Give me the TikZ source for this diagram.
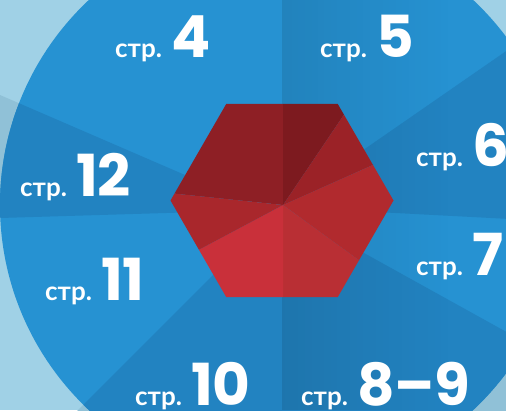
\documentclass[tikz,border=0pt]{standalone}
\usepackage{fontspec}
\setmainfont{Lato}
\newfontfamily\numfam{Poppins}
\usetikzlibrary{calc,fadings}
\definecolor{bgLight}{HTML}{A0D1E6}
\definecolor{bgDark}{HTML}{90C1D7}
\definecolor{blueLight}{HTML}{2692D2}
\definecolor{blueDark}{HTML}{2283C1}
\definecolor{redA}{HTML}{8E1F25}
\definecolor{redB}{HTML}{7D1A1F}
\definecolor{redC}{HTML}{9B2227}
\definecolor{redD}{HTML}{B12A2E}
\definecolor{redE}{HTML}{B92F34}
\definecolor{redF}{HTML}{C9303A}
\definecolor{redG}{HTML}{A9272C}
\tikzfading[name=shadowfade, left color=transparent!0, right color=transparent!100]
\newcommand{\pgword}{\fontsize{26}{26}\selectfont\bfseries}
\newcommand{\pgnum}{\numfam\fontsize{58}{58}\selectfont\bfseries}

\begin{document}
\begin{tikzpicture}[x=1pt, y=1pt]
    \tikzstyle{page label} = [anchor=base west, inner sep=0pt, text=white]
    \useasboundingbox (0,0) rectangle (506,410);
    \clip (0,0) rectangle (506,410);
    \coordinate (o) at (281,205);
    \coordinate (c) at (281,203);
    % light background and its darker bands
    \fill[bgLight] (0,0) rectangle (506,410);
    \fill[bgDark] (c) -- ($(c)+(-3:700pt)$) -- ($(c)+(16:700pt)$) -- ($(c)+(34.7:700pt)$) -- cycle;
    \fill[bgDark] (c) -- ($(c)+(225:700pt)$) -- ($(c)+(262:700pt)$) -- ($(c)+(296:700pt)$) -- ($(c)+(331:700pt)$) -- cycle;
    \fill[bgDark] (266,200) -- (-10,191.7) -- (-10,319.3) -- cycle;
    % the disc
    \fill[blueLight] (o) circle (281pt);
    \begin{scope}
        \clip (o) circle (281pt);
        \fill[blueDark] (c) -- ($(c)+(-3:700pt)$) -- ($(c)+(16:700pt)$) -- ($(c)+(34.7:700pt)$) -- cycle;
        \fill[blueDark] (c) -- ($(c)+(225:700pt)$) -- ($(c)+(262:700pt)$) -- ($(c)+(296:700pt)$) -- ($(c)+(331:700pt)$) -- cycle;
        \fill[blueDark] (266,200) -- (-10,191.7) -- (-10,319.3) -- cycle;
    \end{scope}
    % shadow on the right half
    \fill[black, opacity=0.1, path fading=shadowfade] (282,0) rectangle (450,410);
    % red hexagon
    \begin{scope}[shift={(282,209.5)}]
        \clip (0:111.5pt) -- (60:111.5pt) -- (120:111.5pt) -- (180:111.5pt) -- (240:111.5pt) -- (300:111.5pt) -- cycle;
        \coordinate (h) at (1,-4.5);
        \fill[redA] (h) -- ($(h)+(90:200pt)$) -- ($(h)+(132:200pt)$) -- ($(h)+(174:200pt)$) -- cycle;
        \fill[redB] (h) -- ($(h)+(56:200pt)$) -- ($(h)+(90:200pt)$) -- cycle;
        \fill[redC] (h) -- ($(h)+(24:200pt)$) -- ($(h)+(56:200pt)$) -- cycle;
        \fill[redD] (h) -- ($(h)+(-36:200pt)$) -- ($(h)+(-6:200pt)$) -- ($(h)+(24:200pt)$) -- cycle;
        \fill[redE] (h) -- ($(h)+(-90:200pt)$) -- ($(h)+(-36:200pt)$) -- cycle;
        \fill[redF] (h) -- ($(h)+(208:200pt)$) -- ($(h)+(239:200pt)$) -- ($(h)+(270:200pt)$) -- cycle;
        \fill[redG] (h) -- ($(h)+(174:200pt)$) -- ($(h)+(208:200pt)$) -- cycle;
    \end{scope}
    % page labels
    \node[page label] (p4) at (115,352) {\pgword стр.\hspace{9pt}\pgnum 4};
    \node[page label] (p5) at (320,352) {\pgword стр.\hspace{9pt}\pgnum 5};
    \node[page label] (p6) at (416,243) {\pgword стр.\hspace{9pt}\pgnum 6};
    \node[page label] (p7) at (416,135) {\pgword стр.\hspace{9pt}\pgnum 7};
    \node[page label] (p89) at (301,5) {\pgword стр.\hspace{9pt}\pgnum 8–9};
    \node[page label] (p10) at (135,5) {\pgword стр.\hspace{9pt}\pgnum 10};
    \node[page label] (p11) at (45,110) {\pgword стр.\hspace{9pt}\pgnum 11};
    \node[page label] (p12) at (20,213) {\pgword стр.\hspace{9pt}\pgnum 12};
\end{tikzpicture}
\end{document}
